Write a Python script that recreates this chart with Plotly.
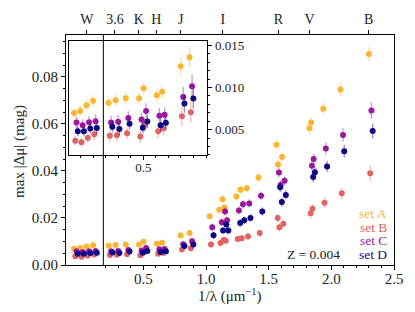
import plotly.graph_objects as go

# ---------------- data ----------------
inv_wavelength = [-0.053, -0.004, 0.047, 0.099,
                  0.223, 0.279, 0.360, 0.466, 0.502, 0.608, 0.650, 0.798, 0.869,
                  1.030, 1.106, 1.132, 1.148, 1.243, 1.275, 1.325, 1.419,
                  1.562, 1.575, 1.607, 1.825, 1.839, 1.936, 2.073, 2.300]

set_a = [0.00696, 0.00722, 0.00788, 0.00841,
         0.00818, 0.00849, 0.00872, 0.00872, 0.00991, 0.00907, 0.00949, 0.01252, 0.01359,
         0.0207, 0.0235, 0.0280, 0.0245, 0.0291, 0.0320, 0.0326, 0.0372,
         0.0511, 0.0427, 0.0459, 0.0581, 0.0606, 0.0664, 0.0746, 0.0897]
set_b = [0.00369, 0.00350, 0.00403, 0.00446,
         0.00426, 0.00434, 0.00457, 0.00419, 0.00561, 0.00480, 0.00512, 0.00657, 0.00707,
         0.0087, 0.0094, 0.0106, 0.0103, 0.0111, 0.0114, 0.0121, 0.0136,
         0.0200, 0.0160, 0.0175, 0.0220, 0.0239, 0.0265, 0.0305, 0.0390]
set_c = [0.00584, 0.00553, 0.00588, 0.00599,
         0.00584, 0.00592, 0.00638, 0.00619, 0.00722, 0.00665, 0.00676, 0.00887, 0.01014,
         0.0160, 0.0182, 0.0228, 0.0190, 0.0232, 0.0258, 0.0262, 0.0294,
         0.0393, 0.0340, 0.0358, 0.0422, 0.0451, 0.0495, 0.0553, 0.0657]
set_d = [0.00480, 0.00480, 0.00512, 0.00518,
         0.00535, 0.00507, 0.00569, 0.00523, 0.00596, 0.00553, 0.00581, 0.00811, 0.00869,
         0.0126, 0.0147, 0.0172, 0.0147, 0.0179, 0.0190, 0.0200, 0.0228,
         0.0331, 0.0268, 0.0298, 0.0374, 0.0394, 0.0419, 0.0484, 0.0570]

err_a = [0.0006, 0.0006, 0.0006, 0.0007,
         0.0007, 0.0007, 0.0007, 0.0007, 0.0008, 0.0008, 0.0008, 0.0010, 0.0012,
         0.0015, 0.0015, 0.0016, 0.0015, 0.0016, 0.0016, 0.0017, 0.0018,
         0.0020, 0.0019, 0.0020, 0.0022, 0.0022, 0.0024, 0.0027, 0.0031]
err_b = [0.0006, 0.0006, 0.0006, 0.0007,
         0.0007, 0.0007, 0.0007, 0.0007, 0.0008, 0.0008, 0.0008, 0.0011, 0.0012,
         0.0014, 0.0014, 0.0014, 0.0014, 0.0014, 0.0015, 0.0015, 0.0016,
         0.0018, 0.0018, 0.0018, 0.0020, 0.0020, 0.0022, 0.0026, 0.0033]
err_c = [0.0007, 0.0007, 0.0007, 0.0008,
         0.0008, 0.0008, 0.0008, 0.0008, 0.0009, 0.0009, 0.0009, 0.0012, 0.0014,
         0.0016, 0.0016, 0.0017, 0.0016, 0.0017, 0.0017, 0.0018, 0.0019,
         0.0021, 0.0020, 0.0021, 0.0023, 0.0023, 0.0025, 0.0028, 0.0035]
err_d = [0.0006, 0.0006, 0.0006, 0.0007,
         0.0007, 0.0007, 0.0007, 0.0007, 0.0008, 0.0008, 0.0008, 0.0011, 0.0012,
         0.0015, 0.0015, 0.0015, 0.0015, 0.0016, 0.0016, 0.0016, 0.0018,
         0.0020, 0.0019, 0.0020, 0.0022, 0.0022, 0.0024, 0.0027, 0.0032]

set_names = ["set A", "set B", "set C", "set D"]
band_labels = ["W", "3.6", "K", "H", "J", "I", "R", "V", "B"]
band_positions = [0.049, 0.273, 0.463, 0.603, 0.798, 1.135, 1.577, 1.826, 2.297]
break_position = 0.181
redshift_label = "Z = 0.004"

# ---------------- style ----------------
colors = ["#FDB42F", "#E16462", "#9C179E", "#0D0887"]
err_colors = ["rgba(253,180,47,0.45)", "rgba(225,100,98,0.45)",
              "rgba(156,23,158,0.45)", "rgba(13,8,135,0.45)"]
dodge = [0.0, 0.01, 0.02, 0.03]
FONT = "Liberation Serif"

W, H = 415, 312
ML, MR, MT, MB = 66, 18, 29, 47
XR = [-0.117, 2.5]
YR = [0.0, 0.0978]

pw, ph = W - ML - MR, H - MT - MB
ix0, ix1, iy0, iy1 = 69.3, 208.7, 35.3, 152.0
ixd = [(ix0 - ML) / pw, (ix1 - ML) / pw]
iyd = [(H - MB - iy1) / ph, (H - MB - iy0) / ph]
ixr = [XR[0] + ixd[0] * (XR[1] - XR[0]), XR[0] + ixd[1] * (XR[1] - XR[0])]

fig = go.Figure()
all_sets = [set_a, set_b, set_c, set_d]
all_errs = [err_a, err_b, err_c, err_d]
for xa, ya in (("x", "y"), ("x2", "y2")):
    for i, (vals, errs) in enumerate(zip(all_sets, all_errs)):
        fig.add_trace(go.Scatter(
            x=[v + dodge[i] for v in inv_wavelength], y=vals,
            mode="markers", xaxis=xa, yaxis=ya, showlegend=False,
            marker=dict(color=colors[i], size=6, line=dict(width=0)),
            error_y=dict(type="data", array=errs, color=err_colors[i],
                         thickness=1.3, width=0),
        ))
fig.add_trace(go.Scatter(x=[-10], y=[-10], xaxis="x3", yaxis="y", mode="markers",
                         marker=dict(opacity=0), showlegend=False, hoverinfo="skip"))

tickfont = dict(family=FONT, size=15, color="#222")
axis_common = dict(showgrid=False, zeroline=False, showline=True, linecolor="black",
                   linewidth=1, ticks="outside", tickcolor="black", ticklen=4, tickwidth=1)

fig.update_layout(
    width=W, height=H, margin=dict(l=ML, r=MR, t=MT, b=MB, pad=0),
    paper_bgcolor="white", plot_bgcolor="white",
    font=dict(family=FONT, color="#222"),
    xaxis=dict(**axis_common, range=XR, mirror=True, tickvals=[0.5, 1.0, 1.5, 2.0, 2.5],
               ticktext=["0.5", "1.0", "1.5", "2.0", "2.5"], tickfont=tickfont,
               ticklabelstandoff=-4,
               minor=dict(tickvals=[round(0.2 + 0.1 * k, 1) for k in range(23)],
                          ticks="outside", ticklen=2, tickcolor="black")),
    yaxis=dict(**axis_common, range=YR, mirror=True, tickvals=[0, 0.02, 0.04, 0.06, 0.08],
               ticktext=["0.00", "0.02", "0.04", "0.06", "0.08"], tickfont=tickfont,
               minor=dict(dtick=0.005, ticks="outside", ticklen=2, tickcolor="black")),
    xaxis3=dict(**axis_common, range=XR, overlaying="x", side="top", anchor="y",
                tickvals=band_positions, ticktext=band_labels,
                tickfont=dict(family=FONT, size=14, color="#222")),
    xaxis2=dict(**axis_common, domain=ixd, anchor="y2", range=ixr, mirror=True,
                tickvals=[0.5], ticktext=["0.5"], ticklabelstandoff=-3,
                tickfont=dict(family=FONT, size=13, color="#222"),
                minor=dict(tickvals=[round(0.1 * k, 1) for k in range(0, 11)],
                           ticks="outside", ticklen=2, tickcolor="black")),
    yaxis2=dict(**axis_common, domain=iyd, anchor="x2", range=[0.0020, 0.0155], side="right",
                mirror=True, tickvals=[0.005, 0.010, 0.015],
                ticktext=["0.005", "0.010", "0.015"],
                tickfont=dict(family=FONT, size=13, color="#222"),
                minor=dict(dtick=0.001, ticks="outside", ticklen=2, tickcolor="black")),
    shapes=[dict(type="line", xref="x", yref="paper", x0=break_position, x1=break_position,
                 y0=0, y1=1, line=dict(color="black", width=1))],
)

anns = []
leg_y = [211.7, 225.8, 239.6, 253.8]
for i, name in enumerate(set_names):
    anns.append(dict(text=name, xref="paper", yref="paper",
                     x=(391.5 - ML) / pw, y=(H - MB - leg_y[i]) / ph,
                     xanchor="right", yanchor="middle", showarrow=False, height=12,
                     font=dict(family=FONT, size=13.5, color=colors[i])))
anns.append(dict(text=redshift_label, xref="paper", yref="paper",
                 x=(344.5 - ML) / pw, y=(H - MB - 253.8) / ph, xanchor="right",
                 yanchor="middle", showarrow=False, height=12,
                 font=dict(family=FONT, size=13.5, color="#222")))
anns.append(dict(text="1/λ (μm<sup>−1</sup>)", xref="paper", yref="paper",
                 x=0.5, y=(H - MB - 296) / ph, xanchor="center", yanchor="middle",
                 showarrow=False, font=dict(family=FONT, size=15, color="#222")))
anns.append(dict(text="max |Δμ| (mag)", xref="paper", yref="paper", textangle=-90,
                 x=(19.5 - ML) / pw, y=(H - MB - 148) / ph, xanchor="center",
                 yanchor="middle", showarrow=False,
                 font=dict(family=FONT, size=15, color="#222")))
fig.update_layout(annotations=anns)

fig.write_html("out.html", config={"displayModeBar": False},
               post_script="document.body.style.margin='0';")
